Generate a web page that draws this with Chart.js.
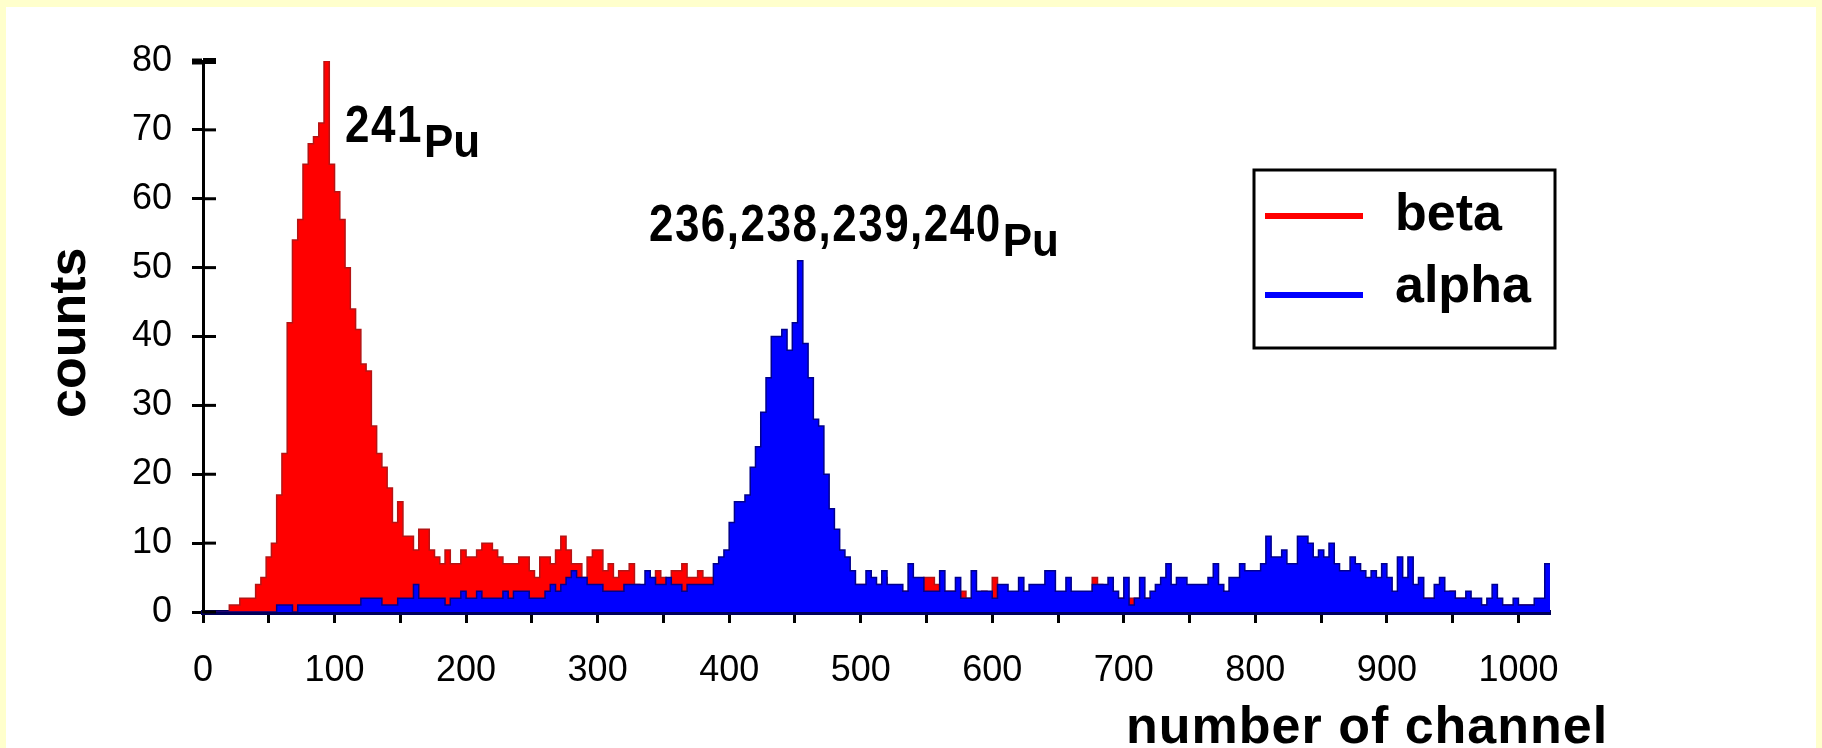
<!DOCTYPE html>
<html><head><meta charset="utf-8">
<script src="https://cdn.jsdelivr.net/npm/chart.js@4.4.0/dist/chart.umd.min.js"></script>
<style>
html,body{margin:0;padding:0;background:#ffffcc;width:1822px;height:748px;overflow:hidden;}
canvas{display:block;position:absolute;left:0;top:0;}
</style></head><body>
<canvas id="c" width="1822" height="748"></canvas>
<script>
// ---- data ----
const BIN_WIDTH = 4;              // channels per histogram bin (bin i starts at channel i*BIN_WIDTH)
const CHANNEL_MAX = 1024;
const seriesLabels = ['beta', 'alpha'];

const betaCounts = [
  0,0,0,0,0,1,1,2,2,2,4,5,8,10,17,23,
  42,54,57,65,68,69,71,80,65,61,57,50,44,41,36,35,
  27,23,21,18,13,16,11,11,9,12,12,9,8,7,9,7,
  7,9,8,8,9,10,10,9,8,7,7,7,8,8,6,5,
  8,8,7,9,11,9,7,7,5,8,9,9,6,7,5,6,
  6,7,4,3,4,3,6,5,4,6,6,7,5,5,6,5,
  5,4,4,3,3,3,3,3,3,3,3,3,3,3,3,3,
  3,3,3,3,3,3,3,3,3,3,3,3,4,4,3,4,
  4,5,3,3,3,3,3,3,3,5,5,4,3,3,3,2,
  3,2,2,2,3,2,5,2,2,2,2,2,2,2,2,2,
  2,2,2,2,2,2,2,2,2,5,4,2,2,2,2,2,
  2,2,2,2,2,2,2,2,2,2,2,2,2,2,2,2,
  3,3,2,3,3,3,3,3,3,3,3,3,3,3,3,3,
  3,3,3,3,3,3,3,3,3,3,3,3,3,3,3,3,
  3,2,2,2,2,2,2,2,2,2,2,2,2,3,2,2,
  1,1,1,1,1,1,1,1,1,1,1,1,1,1,1,0
];

const alphaCounts = [
  0,0,0,0,0,0,0,0,0,0,0,0,0,0,1,1,
  1,0,1,1,1,1,1,1,1,1,1,1,1,1,2,2,
  2,2,1,1,1,2,2,2,4,2,2,2,2,2,1,2,
  2,3,2,2,3,2,2,2,2,3,2,3,3,3,2,2,
  2,3,4,3,4,5,6,5,5,4,4,4,3,3,3,3,
  4,4,4,4,6,5,4,4,5,4,4,3,4,4,4,4,
  4,7,8,9,13,16,16,17,21,24,29,34,40,40,41,38,
  42,51,39,34,28,27,20,15,12,9,8,6,4,4,6,5,
  4,6,4,4,4,3,7,5,5,3,3,3,6,3,3,5,
  2,2,6,3,3,3,2,4,4,3,3,5,3,4,4,4,
  6,6,3,3,5,3,3,3,3,4,4,4,5,3,2,5,
  1,2,5,2,3,4,5,7,4,5,5,4,4,4,4,5,
  7,4,3,5,5,7,6,6,6,7,11,8,8,9,7,7,
  11,11,10,8,9,8,10,7,6,6,8,7,6,5,6,5,
  7,5,3,8,5,8,4,5,2,2,4,5,3,3,2,2,
  3,2,2,1,2,4,2,1,1,2,1,1,1,2,2,7
];

const xTickStep = 50;      // tick marks every 50 channels
const xLabelStep = 100;    // labels every 100 channels
const yMax = 80;
const yTickStep = 10;

const peakLabels = [
  { mass: '241', element: 'Pu', channel: 108, count: 68.3 },
  { mass: '236,238,239,240', element: 'Pu', channel: 339, count: 53.8 }
];
const axisTitleX = 'number of channel';
const axisTitleY = 'counts';

// ---- helpers ----
function toPoints(counts) {
  const pts = counts.map((v, i) => ({ x: i * BIN_WIDTH, y: v }));
  pts.push({ x: counts.length * BIN_WIDTH, y: counts[counts.length - 1] });
  return pts;
}

function drawText(ctx, str, x, y, font, o) {
  o = o || {};
  ctx.save();
  ctx.translate(x, y);
  if (o.rotate) ctx.rotate(o.rotate);
  ctx.scale(o.sx || 1, o.sy || 1);
  ctx.font = font;
  ctx.letterSpacing = (o.ls || 0) + 'px';
  ctx.fillStyle = '#000';
  ctx.textBaseline = 'alphabetic';
  ctx.textAlign = 'left';
  ctx.fillText(str, 0, 0);
  const w = ctx.measureText(str).width * (o.sx || 1);
  ctx.restore();
  return w;
}

const FONT = "'Liberation Sans', Arial, sans-serif";

const decor = {
  id: 'decor',
  beforeDraw(chart) {
    const ctx = chart.ctx;
    ctx.save();
    ctx.fillStyle = '#ffffcc';
    ctx.fillRect(0, 0, chart.width, chart.height);
    ctx.fillStyle = '#ffffff';
    ctx.fillRect(6, 7, chart.width - 12, chart.height - 7);
    ctx.restore();
  },
  afterDraw(chart) {
    const ctx = chart.ctx;
    const xs = chart.scales.x, ys = chart.scales.y;
    ctx.save();
    // inner half of y tick marks (crossing the axis)
    ctx.strokeStyle = '#000';
    ys.ticks.forEach(t => {
      const py = ys.getPixelForValue(t.value);
      ctx.lineWidth = t.value === ys.max ? 6 : 3;
      ctx.beginPath();
      ctx.moveTo(xs.left, py);
      ctx.lineTo(xs.left + 13, py);
      ctx.stroke();
    });
    ctx.restore();

    // peak annotations
    peakLabels.forEach(p => {
      const px = xs.getPixelForValue(p.channel);
      const py = ys.getPixelForValue(p.count);
      const w = drawText(ctx, p.mass, px, py, 'bold 44px ' + FONT, { sy: 1.16, ls: 1.5 });
      drawText(ctx, p.element, px + w + 1, py + 15, 'bold 44px ' + FONT, { sy: 1.05 });
    });

    // axis titles
    drawText(ctx, axisTitleX, 1126, 743, 'bold 52px ' + FONT, { ls: 1 });
    drawText(ctx, axisTitleY, 85, 418, 'bold 52px ' + FONT, { rotate: -Math.PI / 2, ls: 0 });

    // legend
    const L = { left: 1254, top: 170, right: 1555, bottom: 348 };
    ctx.save();
    ctx.strokeStyle = '#000';
    ctx.lineWidth = 3;
    ctx.strokeRect(L.left, L.top, L.right - L.left, L.bottom - L.top);
    const rows = [216, 295];
    chart.data.datasets.forEach((ds, i) => {
      ctx.fillStyle = ds.backgroundColor;
      ctx.fillRect(1265, rows[i] - 3, 98, 6);
      drawText(ctx, ds.label, 1395, rows[i] + (i === 0 ? 14 : 7), 'bold 52px ' + FONT);
    });
    ctx.restore();
  }
};

const datasets = [
  { label: seriesLabels[0], data: toPoints(betaCounts), stepped: 'before', fill: 'origin',
    backgroundColor: '#ff0000', borderColor: '#b41414', borderWidth: 1.5, pointRadius: 0, pointHitRadius: 0, order: 2 },
  { label: seriesLabels[1], data: toPoints(alphaCounts), stepped: 'before', fill: 'origin',
    backgroundColor: '#0000ff', borderColor: '#00008c', borderWidth: 1.5, pointRadius: 0, pointHitRadius: 0, order: 1 }
];

new Chart(document.getElementById('c').getContext('2d'), {
  type: 'line',
  data: { datasets },
  options: {
    responsive: false,
    animation: false,
    devicePixelRatio: 1,
    layout: { padding: { left: 0, top: 61, right: 272, bottom: 0 } },
    plugins: { legend: { display: false }, tooltip: { enabled: false }, title: { display: false } },
    scales: {
      x: {
        type: 'linear', min: 0, max: CHANNEL_MAX,
        afterFit(s) { s.height = 136; },
        ticks: {
          stepSize: xTickStep, includeBounds: false, autoSkip: false, maxRotation: 0, minRotation: 0,
          padding: 26, color: '#000', font: { family: FONT, size: 36 },
          callback: v => (v % xLabelStep === 0 ? String(v) : '')
        },
        grid: { display: true, drawOnChartArea: false, drawTicks: true, tickLength: 11, tickWidth: 3, tickColor: '#000' },
        border: { display: true, color: '#00005a', width: 5 }
      },
      y: {
        type: 'linear', min: 0, max: yMax,
        afterFit(s) { s.width = 203; },
        ticks: { stepSize: yTickStep, padding: 20, color: '#000', font: { family: FONT, size: 36 } },
        grid: { display: true, drawOnChartArea: false, drawTicks: true, tickLength: 11,
                tickWidth: c => (c.tick && c.tick.value === yMax ? 6 : 3), tickColor: '#000' },
        border: { display: true, color: '#000', width: 3 }
      }
    }
  },
  plugins: [decor]
});
</script>
</body></html>
